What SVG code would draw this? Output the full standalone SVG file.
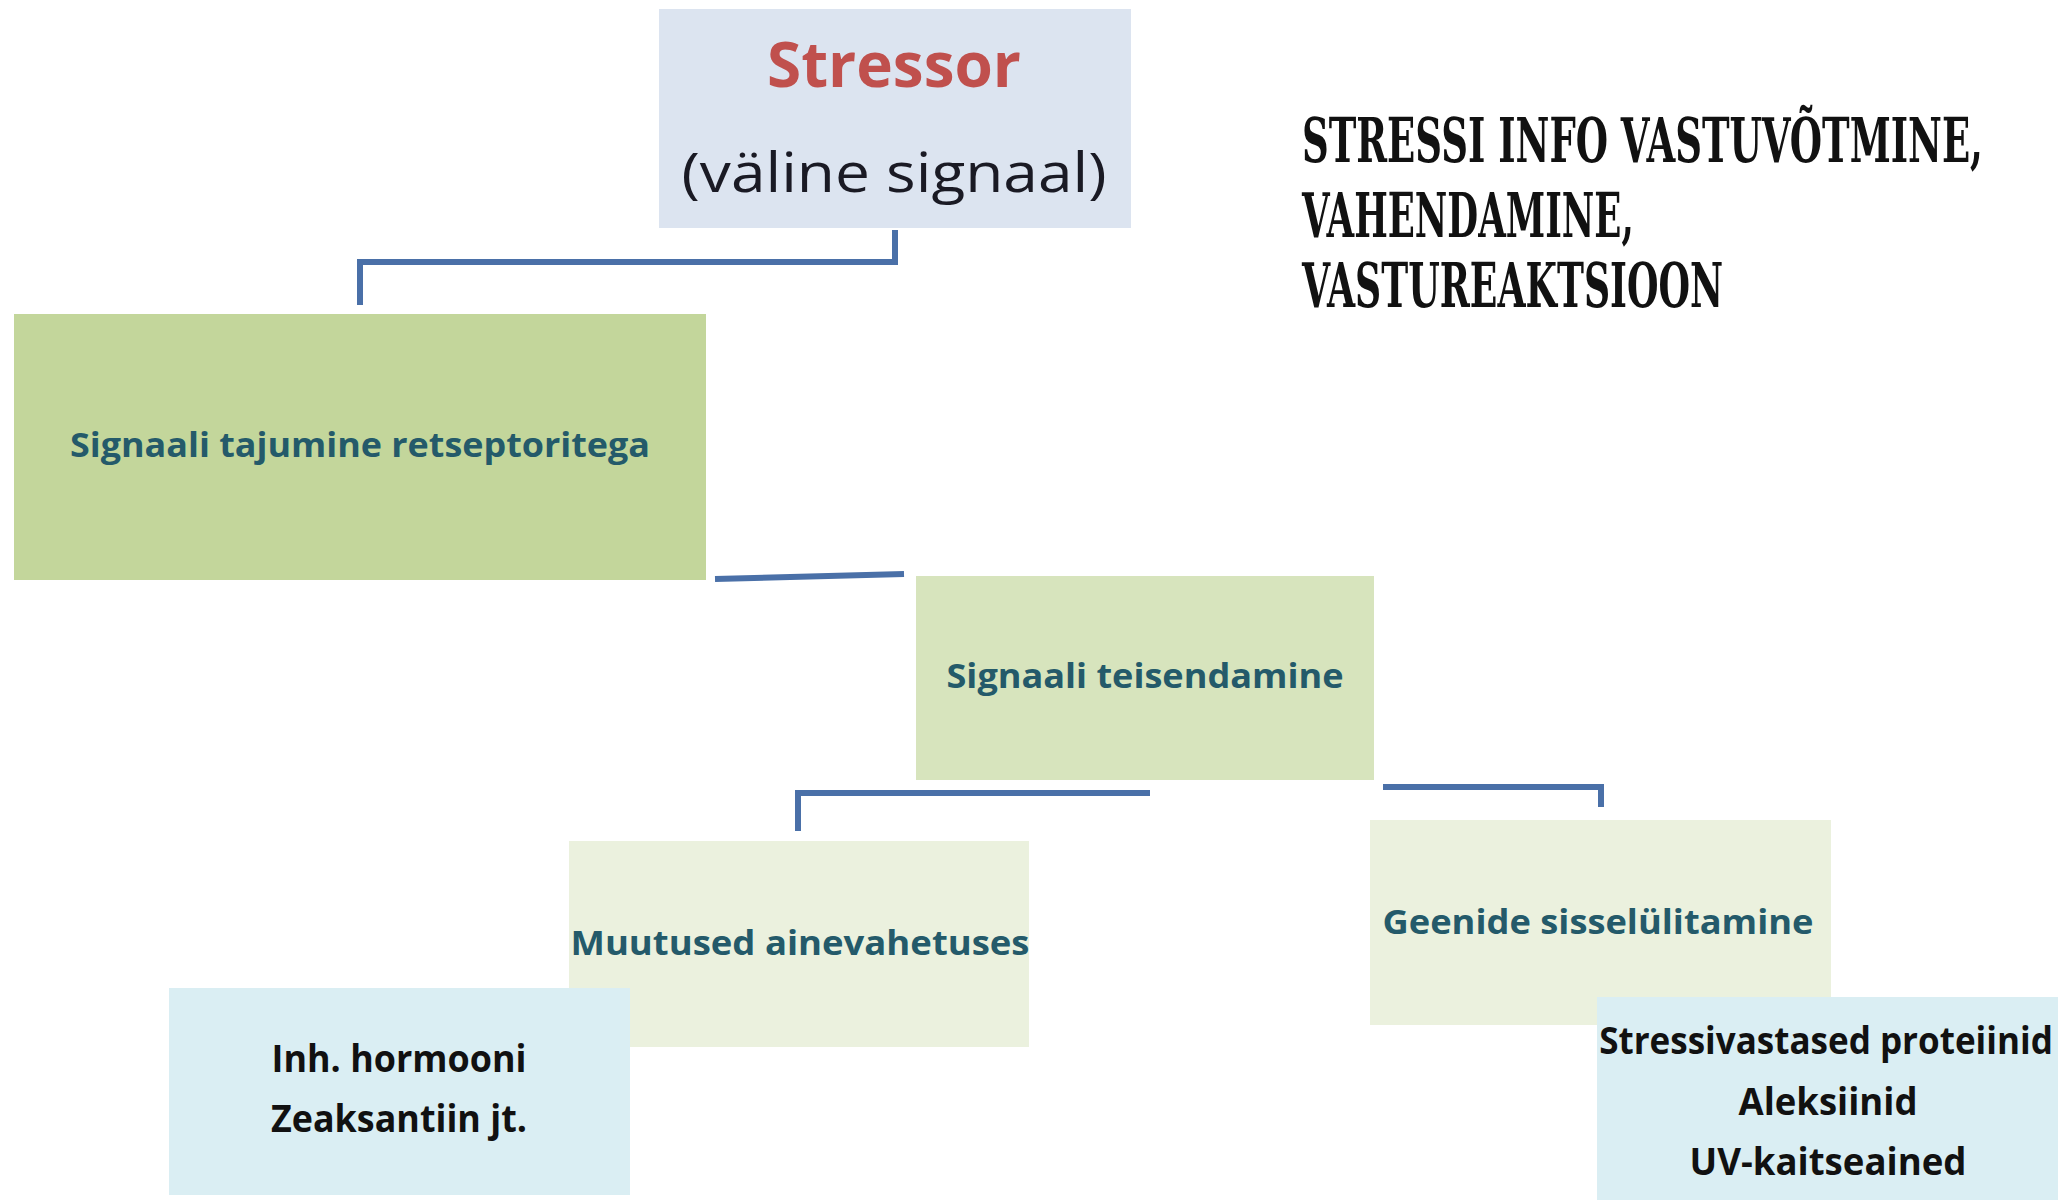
<svg xmlns="http://www.w3.org/2000/svg" width="2066" height="1200" viewBox="0 0 2066 1200">
<style>
.conn{fill:none;stroke:#4A70A8;stroke-width:6;stroke-linecap:butt;stroke-linejoin:miter}
.lbl{font-family:"Open Sans","Liberation Sans",sans-serif;font-weight:bold;text-anchor:middle}
.teal{fill:#245A6A;font-size:34px}
.blk{fill:#111111;font-size:37px}
.title{font-family:"DejaVu Serif Condensed","DejaVu Serif","Liberation Serif",serif;font-weight:bold;font-size:62px;fill:#111111}
</style>
<rect width="2066" height="1200" fill="#ffffff"/>
<g id="connectors">
<polyline class="conn" points="895,230 895,262 360,262 360,305"/>
<line class="conn" x1="715" y1="579" x2="904" y2="574"/>
<polyline class="conn" points="1150,793 798,793 798,831"/>
<polyline class="conn" points="1383,787 1601,787 1601,807"/>
</g>
<g id="stressor">
<rect x="659" y="9" width="472" height="219" fill="#DCE4F0"/>
<text class="lbl" x="894" y="87" font-size="62" fill="#C0504D" textLength="254" lengthAdjust="spacingAndGlyphs">Stressor</text>
<text x="894" y="192" font-family="Open Sans,Liberation Sans,sans-serif" font-size="55" fill="#1a1a24" text-anchor="middle" textLength="425" lengthAdjust="spacingAndGlyphs">(väline signaal)</text>
</g>
<g id="title">
<text class="title" transform="translate(1302,162) scale(0.6,1)" x="0" y="0" textLength="1135" lengthAdjust="spacingAndGlyphs">STRESSI INFO VASTUVÕTMINE,</text>
<text class="title" transform="translate(1302,237) scale(0.6,1)" x="0" y="0" textLength="553" lengthAdjust="spacingAndGlyphs">VAHENDAMINE,</text>
<text class="title" transform="translate(1302,307) scale(0.6,1)" x="0" y="0" textLength="702" lengthAdjust="spacingAndGlyphs">VASTUREAKTSIOON</text>
</g>
<g id="tajumine">
<rect x="14" y="314" width="692" height="266" fill="#C3D69B"/>
<text class="lbl teal" x="360" y="457" textLength="580" lengthAdjust="spacingAndGlyphs">Signaali tajumine retseptoritega</text>
</g>
<g id="teisendamine">
<rect x="916" y="576" width="458" height="204" fill="#D7E4BD"/>
<text class="lbl teal" x="1145" y="688" textLength="397" lengthAdjust="spacingAndGlyphs">Signaali teisendamine</text>
</g>
<g id="ainevahetus">
<rect x="569" y="841" width="460" height="206" fill="#EBF1DE"/>
<text class="lbl teal" x="800" y="955" textLength="459" lengthAdjust="spacingAndGlyphs">Muutused ainevahetuses</text>
</g>
<g id="geenid">
<rect x="1370" y="820" width="461" height="205" fill="#EBF1DE"/>
<text class="lbl teal" x="1598" y="934" textLength="431" lengthAdjust="spacingAndGlyphs">Geenide sisselülitamine</text>
</g>
<g id="hormoonid">
<rect x="169" y="988" width="461" height="207" fill="#DAEEF3"/>
<text class="lbl blk" x="399" y="1072" textLength="255" lengthAdjust="spacingAndGlyphs">Inh. hormooni</text>
<text class="lbl blk" x="399" y="1132" textLength="256" lengthAdjust="spacingAndGlyphs">Zeaksantiin jt.</text>
</g>
<g id="proteiinid">
<rect x="1597" y="997" width="461" height="203" fill="#DAEEF3"/>
<text class="lbl blk" transform="translate(1826,1054) scale(0.84,1)" x="0" y="0" textLength="540" lengthAdjust="spacingAndGlyphs">Stressivastased proteiinid</text>
<text class="lbl blk" x="1828" y="1115" textLength="179" lengthAdjust="spacingAndGlyphs">Aleksiinid</text>
<text class="lbl blk" x="1828" y="1175" textLength="277" lengthAdjust="spacingAndGlyphs">UV-kaitseained</text>
</g>
</svg>
